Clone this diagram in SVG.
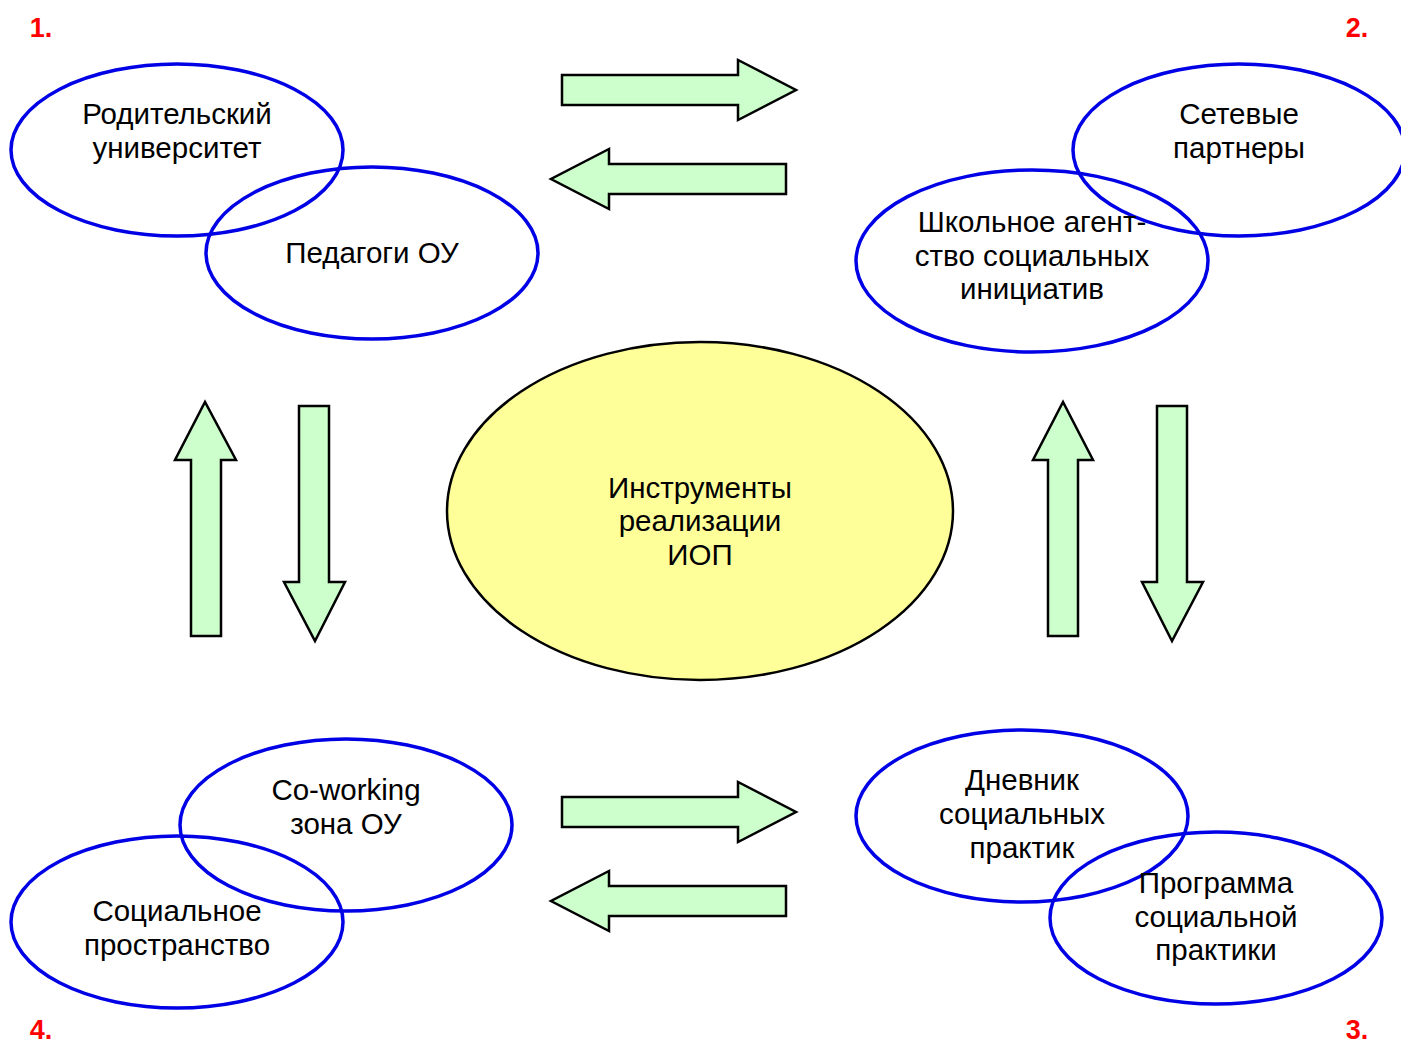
<svg xmlns="http://www.w3.org/2000/svg" width="1401" height="1044" viewBox="0 0 1401 1044">
<style>
.ell{fill:none;stroke:#0000E6;stroke-width:3.5}
.ctr{fill:#FFFF99;stroke:#000;stroke-width:2.5}
.arr{fill:#CCFFCC;stroke:#000;stroke-width:2.5;stroke-linejoin:miter}
.t{font-family:"Liberation Sans",Arial,sans-serif;font-size:29.5px;fill:#000;text-anchor:middle}
.num{font-family:"Liberation Sans",Arial,sans-serif;font-size:27px;font-weight:bold;fill:#FF0000;text-anchor:middle}
</style>
<rect width="1401" height="1044" fill="#fff"/>
<g id="connectors">
<polygon class="arr" points="562,75 738,75 738,60 796,90 738,120 738,105 562,105"/>
<polygon class="arr" points="786,164 609,164 609,149 551,179 609,209 609,194 786,194"/>
<polygon class="arr" points="562,797 738,797 738,782 796,812 738,842 738,827 562,827"/>
<polygon class="arr" points="786,886 609,886 609,871 551,901 609,931 609,916 786,916"/>
<polygon class="arr" points="191,636 191,460 175,460 205,402 236,460 221,460 221,636"/>
<polygon class="arr" points="299,406 329,406 329,582 345,582 315,641 284,582 299,582"/>
<polygon class="arr" points="1048,636 1048,460 1033,460 1063,402 1093,460 1078,460 1078,636"/>
<polygon class="arr" points="1157,406 1187,406 1187,582 1203,582 1172,641 1142,582 1157,582"/>
</g>
<g id="center">
<ellipse class="ctr" cx="700" cy="511" rx="253" ry="169"/>
<text class="t" x="700" y="498">Инструменты</text>
<text class="t" x="700" y="531">реализации</text>
<text class="t" x="700" y="565">ИОП</text>
</g>
<g id="n-parents">
<ellipse class="ell" cx="177" cy="150" rx="166" ry="86"/>
<text class="t" x="177" y="124">Родительский</text>
<text class="t" x="177" y="158">университет</text>
</g>
<g id="n-teachers">
<ellipse class="ell" cx="372" cy="253" rx="166" ry="86"/>
<text class="t" x="372" y="263">Педагоги ОУ</text>
</g>
<g id="n-network">
<ellipse class="ell" cx="1239" cy="150" rx="166" ry="86"/>
<text class="t" x="1239" y="124">Сетевые</text>
<text class="t" x="1239" y="158">партнеры</text>
</g>
<g id="n-agency">
<ellipse class="ell" cx="1032" cy="261" rx="176" ry="91"/>
<text class="t" x="1032" y="232">Школьное агент-</text>
<text class="t" x="1032" y="266">ство социальных</text>
<text class="t" x="1032" y="299">инициатив</text>
</g>
<g id="n-coworking">
<ellipse class="ell" cx="346" cy="825" rx="166" ry="86"/>
<text class="t" x="346" y="800">Co-working</text>
<text class="t" x="346" y="834">зона ОУ</text>
</g>
<g id="n-social-space">
<ellipse class="ell" cx="177" cy="922" rx="166" ry="86"/>
<text class="t" x="177" y="921">Социальное</text>
<text class="t" x="177" y="955">пространство</text>
</g>
<g id="n-diary">
<ellipse class="ell" cx="1022" cy="816" rx="166" ry="86"/>
<text class="t" x="1022" y="790">Дневник</text>
<text class="t" x="1022" y="824">социальных</text>
<text class="t" x="1022" y="858">практик</text>
</g>
<g id="n-program">
<ellipse class="ell" cx="1216" cy="918" rx="166" ry="86"/>
<text class="t" x="1216" y="893">Программа</text>
<text class="t" x="1216" y="927">социальной</text>
<text class="t" x="1216" y="960">практики</text>
</g>
<g id="numbers">
<text class="num" x="41" y="37">1.</text>
<text class="num" x="1357" y="37">2.</text>
<text class="num" x="1357" y="1039">3.</text>
<text class="num" x="41" y="1039">4.</text>
</g>
</svg>
